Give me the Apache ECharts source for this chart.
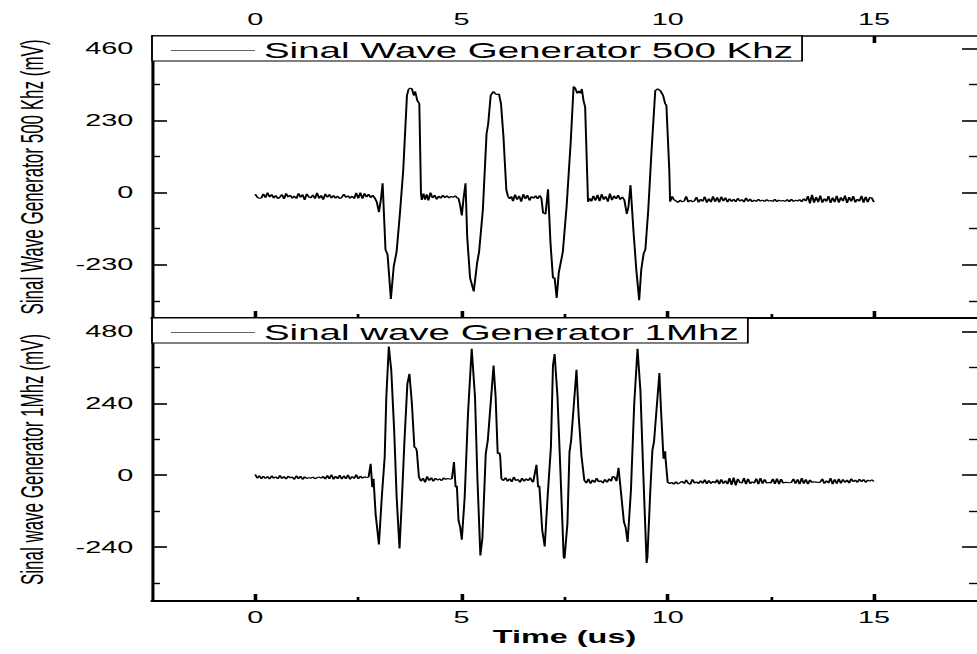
<!DOCTYPE html>
<html>
<head>
<meta charset="utf-8">
<script src="https://cdn.jsdelivr.net/npm/echarts@6/dist/echarts.min.js"></script>
<style>
html,body{margin:0;padding:0;background:#fff;overflow:hidden;}
#wrap{width:977px;height:654px;overflow:hidden;position:relative;background:#fff;}
#chart{width:543px;height:654px;transform:scaleX(1.79926);transform-origin:0 0;}
</style>
</head>
<body>
<div id="wrap"><div id="chart"></div></div>
<script>
// ---- data (time in us, signal in mV) ----
const seriesNames = ['Sinal Wave Generator 500 Khz', 'Sinal wave Generator 1Mhz'];
const yTitles = ['Sinal Wave Generator 500 Khz (mV)', 'Sinal wave Generator 1Mhz (mV)'];
const xTitle = 'Time (us)';
const xMajorTicks = [0, 5, 10, 15];
const xMinorTicks = [2.5, 7.5, 12.5];
const y500MajorTicks = [-230, 0, 230, 460];
const y500MinorTicks = [-345, -115, 115, 345];
const y1MMajorTicks = [-240, 0, 240, 480];
const y1MMinorTicks = [-360, -120, 120, 360];

const wave500kHz = [
[0,-5],[0.05,-14],[0.1,-18],[0.15,-17],[0.2,-4],[0.25,-16],[0.3,0],[0.35,-14],[0.4,-6],[0.45,-17],
[0.5,-9],[0.55,-19],[0.6,-14],[0.65,-6],[0.7,-20],[0.75,-2],[0.8,-14],[0.85,-8],[0.9,-18],[0.95,-11],
[1,-19],[1.05,-2],[1.1,-15],[1.15,-6],[1.2,-23],[1.25,-4],[1.3,-14],[1.35,-16],[1.4,-7],[1.45,-19],
[1.5,-1],[1.55,-18],[1.6,-9],[1.65,-22],[1.7,-4],[1.75,-15],[1.8,-6],[1.85,-17],[1.9,-9],[1.95,-18],
[2,-11],[2.05,-19],[2.1,-15],[2.15,-5],[2.2,-15],[2.25,-10],[2.3,-18],[2.35,-11],[2.4,-19],[2.45,-1],
[2.5,-18],[2.55,0],[2.6,-19],[2.65,-2],[2.7,-14],[2.75,-5],[2.8,-16],[2.85,-8],[2.9,-17],
[2.95,-30],[3.0,-62],[3.05,-20],[3.09,30],[3.16,-182],[3.21,-198],[3.29,-339],[3.36,-235],[3.43,-188],
[3.51,-66],[3.59,72],[3.68,310],[3.72,330],[3.76,334],[3.80,331],[3.85,310],[3.88,323],[3.93,294],
[3.98,284],[4.02,-2],[4.04,-23],
[4.08,-3],[4.12,-22],[4.16,-5],[4.2,-25],[4.25,0],[4.3,-17],[4.35,-8],[4.4,-21],[4.45,-11],[4.5,-18],
[4.55,-8],[4.6,-16],[4.65,-10],[4.7,-17],[4.75,-12],[4.8,-15],[4.85,-10],[4.9,-17],
[4.93,-18],[4.97,-40],[5.01,-73],[5.05,-20],[5.10,30],[5.14,-140],[5.21,-272],[5.30,-315],[5.38,-225],
[5.43,-188],[5.52,-55],[5.61,188],[5.65,220],[5.71,310],[5.75,318],[5.78,323],[5.82,316],[5.86,313],
[5.91,315],[5.96,284],[6.02,178],[6.09,8],[6.13,-12],[6.17,-20],
[6.21,-12],[6.25,-27],[6.3,-6],[6.35,-22],[6.4,-10],[6.45,-29],[6.5,-5],[6.55,-20],[6.6,-8],[6.65,-25],
[6.7,-12],[6.75,-18],[6.8,-10],[6.85,-20],[6.9,-9],[6.94,-18],
[6.98,-64],[7.04,-68],[7.10,11],[7.16,-161],[7.22,-272],[7.26,-272],[7.31,-336],[7.36,-256],[7.46,-188],
[7.55,-45],[7.65,162],[7.72,339],[7.76,333],[7.81,317],[7.85,325],[7.89,317],[7.92,331],[7.96,294],
[8.00,273],[8.07,-29],[8.11,-18],
[8.15,-28],[8.2,-10],[8.25,-25],[8.3,-7],[8.35,-27],[8.4,-5],[8.45,-22],[8.5,-12],[8.55,-29],[8.6,-3],
[8.65,-24],[8.7,-10],[8.75,-20],[8.8,-8],[8.85,-22],[8.9,-14],[8.95,-23],
[9.01,-68],[9.05,-45],[9.10,24],[9.17,-119],[9.24,-246],[9.31,-343],[9.36,-246],[9.42,-193],[9.46,-182],
[9.53,-55],[9.61,135],[9.66,241],[9.70,326],[9.76,331],[9.82,326],[9.89,310],[9.94,284],[9.97,279],
[10.04,72],[10.06,-29],[10.11,-12],[10.15,-22],
[10.2,-26],[10.25,-31],[10.3,-24],[10.35,-29],[10.4,-27],[10.45,-12],[10.5,-30],[10.55,-24],[10.6,-29],
[10.65,-26],[10.7,-14],[10.75,-31],[10.8,-21],[10.85,-28],[10.9,-13],[10.95,-32],[11,-19],[11.05,-30],
[11.1,-12],[11.15,-29],[11.2,-15],[11.25,-31],[11.3,-13],[11.35,-27],[11.4,-16],[11.45,-30],[11.5,-19],
[11.55,-28],[11.6,-21],[11.65,-29],[11.7,-18],[11.75,-27],[11.8,-22],[11.85,-30],[11.9,-17],[11.95,-28],
[12,-20],[12.05,-29],[12.1,-24],[12.15,-28],[12.2,-21],[12.25,-27],[12.3,-24],[12.35,-28],[12.4,-22],
[12.45,-27],[12.5,-25],[12.55,-28],[12.6,-21],[12.65,-29],[12.7,-24],[12.75,-27],[12.8,-25],[12.85,-28],
[12.9,-22],[12.95,-29],[13,-21],[13.05,-28],[13.1,-24],[13.15,-27],[13.2,-22],[13.25,-29],[13.3,-19],
[13.35,-27],[13.4,-11],[13.45,-34],[13.5,-7],[13.55,-32],[13.6,-14],[13.65,-30],[13.7,-9],[13.75,-32],
[13.8,-19],[13.85,-28],[13.9,-11],[13.95,-33],[14,-16],[14.05,-30],[14.1,-10],[14.15,-32],[14.2,-15],
[14.25,-27],[14.3,-9],[14.35,-33],[14.4,-14],[14.45,-28],[14.5,-11],[14.55,-31],[14.6,-21],[14.65,-27],
[14.7,-10],[14.75,-32],[14.8,-13],[14.85,-30],[14.9,-15],[14.95,-17],[15,-30]
];

const wave1MHz = [
[0,3],[0.05,-10],[0.1,-2],[0.15,-12],[0.2,-3],[0.25,-11],[0.3,-4],[0.35,-13],[0.4,-2],[0.45,-10],
[0.5,-5],[0.55,-12],[0.6,-1],[0.65,-11],[0.7,-4],[0.75,-13],[0.8,-3],[0.85,-9],[0.9,-6],[0.95,-14],
[1,-2],[1.05,-12],[1.1,-3],[1.15,-14],[1.2,-5],[1.25,-11],[1.3,-8],[1.35,-10],[1.4,-6],[1.45,-12],
[1.5,-8],[1.55,-6],[1.6,-10],[1.65,-4],[1.7,-13],[1.75,-1],[1.8,-12],[1.85,2],[1.9,-14],[1.95,-3],
[2,-12],[2.05,0],[2.1,-13],[2.15,-2],[2.2,-12],[2.25,1],[2.3,-14],[2.35,-4],[2.4,-11],[2.45,2],
[2.5,-12],[2.55,-3],[2.6,-10],[2.65,-5],[2.7,-8],
[2.75,-6],[2.80,38],[2.84,-40],[2.87,-12],[2.92,-129],[3.00,-231],[3.07,-73],[3.14,60],[3.18,261],
[3.24,430],[3.30,350],[3.37,150],[3.43,-73],[3.50,-245],[3.56,-73],[3.62,116],[3.69,305],[3.74,339],
[3.80,239],[3.86,94],[3.90,90],[3.92,80],[3.97,-6],[4.02,-20],
[4.07,-10],[4.12,-24],[4.17,-4],[4.22,-18],[4.27,-8],[4.32,-20],[4.37,-10],[4.42,-16],[4.47,-12],
[4.52,-18],[4.57,-9],[4.62,-14],[4.67,-11],[4.72,-13],
[4.77,-12],[4.82,44],[4.86,-40],[4.89,-35],[4.93,-151],[4.97,-173],[5.01,-215],[5.08,-73],[5.16,205],
[5.25,422],[5.33,261],[5.39,-17],[5.46,-268],[5.51,-208],[5.59,72],[5.64,116],[5.78,366],[5.83,261],
[5.88,72],[5.92,76],[5.94,64],[5.97,-12],
[6.02,-18],[6.07,-8],[6.12,-20],[6.17,-12],[6.22,-22],[6.27,-6],[6.32,-18],[6.37,-14],[6.42,-24],
[6.47,-10],[6.52,-20],[6.57,-12],[6.62,-18],[6.67,-8],[6.71,-20],
[6.74,-23],[6.82,35],[6.86,-40],[6.89,-35],[6.96,-184],[7.02,-238],[7.09,-73],[7.17,94],[7.22,366],
[7.26,405],[7.33,261],[7.40,16],[7.48,-273],[7.50,-278],[7.57,-162],[7.62,77],[7.66,116],[7.79,352],
[7.84,205],[7.91,66],[7.94,66],[7.98,-17],
[8.03,-26],[8.08,-12],[8.13,-28],[8.18,-16],[8.23,-24],[8.28,-10],[8.33,-22],[8.38,-18],[8.43,-26],
[8.48,-14],[8.53,-24],[8.58,-12],[8.63,-20],[8.67,-4],
[8.71,-6],[8.76,-20],[8.81,25],[8.86,-45],[8.88,-45],[8.94,-156],[8.98,-173],[9.03,-223],[9.11,-51],
[9.19,239],[9.27,422],[9.34,283],[9.41,5],[9.49,-293],[9.51,-273],[9.58,-51],[9.63,83],[9.67,112],
[9.80,341],[9.84,216],[9.90,55],[9.94,80],[9.95,55],[10.00,-23],
[10.05,-28],[10.1,-24],[10.15,-30],[10.2,-22],[10.25,-29],[10.3,-25],[10.35,-20],[10.4,-28],[10.45,-16],
[10.5,-27],[10.55,-30],[10.6,-14],[10.65,-26],[10.7,-22],[10.75,-28],[10.8,-18],[10.85,-27],[10.9,-15],
[10.95,-29],[11,-17],[11.05,-28],[11.1,-20],[11.15,-26],[11.2,-15],[11.25,-30],[11.3,-14],[11.35,-28],
[11.4,-18],[11.45,-30],[11.5,-10],[11.55,-32],[11.6,-8],[11.65,-34],[11.7,-12],[11.75,-24],[11.8,-26],
[11.85,-10],[11.9,-30],[11.95,-12],[12,-28],[12.05,-22],[12.1,-26],[12.15,-11],[12.2,-30],[12.25,-10],
[12.3,-28],[12.35,-14],[12.4,-26],[12.45,-24],[12.5,-26],[12.55,-12],[12.6,-29],[12.65,-11],[12.7,-30],
[12.75,-13],[12.8,-26],[12.85,-24],[12.9,-24],[12.95,-25],[13,-24],[13.05,-12],[13.1,-28],[13.15,-14],
[13.2,-30],[13.25,-10],[13.3,-28],[13.35,-14],[13.4,-30],[13.45,-16],[13.5,-24],[13.55,-22],[13.6,-23],
[13.65,-24],[13.7,-23],[13.75,-12],[13.8,-28],[13.85,-18],[13.9,-26],[13.95,-10],[14,-30],[14.05,-14],
[14.1,-28],[14.15,-12],[14.2,-27],[14.25,-14],[14.3,-24],[14.35,-16],[14.4,-26],[14.45,-12],[14.5,-22],
[14.55,-16],[14.6,-24],[14.65,-13],[14.7,-22],[14.75,-14],[14.8,-24],[14.85,-16],[14.9,-20],[14.95,-15],
[15,-21]
];

// ---- chart ----
const F = '"Liberation Sans", Arial, Helvetica, sans-serif';
const BLK = '#000';
const xRange = {min: -2.5, max: 17.5};
const yRange500 = {min: -400, max: 500};
const yRange1M = {min: -420, max: 525};

function xAx(grid, pos, opts) {
  return Object.assign({
    type: 'value', gridIndex: grid, position: pos, min: xRange.min, max: xRange.max,
    splitLine: {show: false},
    axisLine: {show: false, onZero: false},
    axisTick: {show: false},
    axisLabel: {show: false}
  }, opts);
}
function yAx(grid, pos, range, opts) {
  return Object.assign({
    type: 'value', gridIndex: grid, position: pos, min: range.min, max: range.max,
    splitLine: {show: false},
    axisLine: {show: false, onZero: false},
    axisTick: {show: false},
    axisLabel: {show: false}
  }, opts);
}
const xLabel = {show: true, customValues: xMajorTicks, color: BLK, fontSize: 16, fontFamily: F, margin: 8};
const xMajTick = {show: true, inside: true, length: 7, customValues: xMajorTicks, lineStyle: {color: BLK, width: 2}};
const xMinTick = {show: true, inside: true, length: 4, customValues: xMinorTicks, lineStyle: {color: BLK, width: 1.5}};

function yMajTick(v) { return {show: true, inside: true, length: 8.3, customValues: v, lineStyle: {color: BLK, width: 1.6}}; }
function yMinTick(v) { return {show: true, inside: true, length: 4.4, customValues: v, lineStyle: {color: BLK, width: 1.4}}; }
function yLabel(v) { return {show: true, customValues: v, color: BLK, fontSize: 16, fontFamily: F, margin: 10.5}; }
const yName = {color: BLK, fontSize: 17, fontFamily: F};

const legendBase = {
  orient: 'horizontal', icon: 'rect', itemWidth: 46.7, itemHeight: 1, itemGap: 0,
  padding: [4, 5, 0, 10.5], backgroundColor: '#fff', borderColor: BLK, borderWidth: 1, borderRadius: 0,
  textStyle: {fontSize: 21.4, color: BLK, fontFamily: F, lineHeight: 19},
  itemStyle: {color: '#666'}, selectedMode: false
};

const option = {
  animation: false,
  backgroundColor: '#fff',
  textStyle: {fontFamily: F},
  grid: [
    {left: 84.5, top: 36, width: 460.2, height: 282},
    {left: 84.5, top: 318, width: 460.2, height: 283}
  ],
  legend: [
    Object.assign({}, legendBase, {left: 84.5, top: 36, data: [seriesNames[0]]}),
    Object.assign({}, legendBase, {left: 84.5, top: 318, data: [seriesNames[1]]})
  ],
  xAxis: [
    xAx(0, 'bottom', {axisLine: {show: true, onZero: false, lineStyle: {color: BLK, width: 2}}, axisTick: xMajTick}),
    xAx(0, 'top', {axisLine: {show: true, onZero: false, lineStyle: {color: BLK, width: 1.5}}, axisTick: xMajTick, axisLabel: xLabel}),
    xAx(1, 'bottom', {axisLine: {show: true, onZero: false, lineStyle: {color: BLK, width: 2}}, axisTick: xMajTick, axisLabel: xLabel,
      name: xTitle, nameLocation: 'middle', nameGap: 27,
      nameTextStyle: {color: BLK, fontSize: 18, fontWeight: 'bold', fontFamily: F}}),
    xAx(1, 'top', {axisLine: {show: true, onZero: false, lineStyle: {color: BLK, width: 1.5}}}),
    xAx(0, 'bottom', {axisTick: xMinTick}),
    xAx(0, 'top', {axisTick: xMinTick}),
    xAx(1, 'bottom', {axisTick: xMinTick})
  ],
  yAxis: [
    yAx(0, 'left', yRange500, {axisLine: {show: true, onZero: false, lineStyle: {color: BLK, width: 1.7}},
      axisTick: yMajTick(y500MajorTicks), axisLabel: yLabel(y500MajorTicks),
      name: yTitles[0], nameLocation: 'middle', nameGap: 58, nameRotate: 90, nameTextStyle: yName}),
    yAx(0, 'right', yRange500, {axisTick: yMajTick(y500MajorTicks)}),
    yAx(0, 'left', yRange500, {axisTick: yMinTick(y500MinorTicks)}),
    yAx(0, 'right', yRange500, {axisTick: yMinTick(y500MinorTicks)}),
    yAx(1, 'left', yRange1M, {axisLine: {show: true, onZero: false, lineStyle: {color: BLK, width: 1.7}},
      axisTick: yMajTick(y1MMajorTicks), axisLabel: yLabel(y1MMajorTicks),
      name: yTitles[1], nameLocation: 'middle', nameGap: 58, nameRotate: 90, nameTextStyle: yName}),
    yAx(1, 'right', yRange1M, {axisTick: yMajTick(y1MMajorTicks)}),
    yAx(1, 'left', yRange1M, {axisTick: yMinTick(y1MMinorTicks)}),
    yAx(1, 'right', yRange1M, {axisTick: yMinTick(y1MMinorTicks)})
  ],
  series: [
    {name: seriesNames[0], type: 'line', xAxisIndex: 0, yAxisIndex: 0, data: wave500kHz,
      symbol: 'none', showSymbol: false, lineStyle: {color: BLK, width: 1.1}, itemStyle: {color: BLK}},
    {name: seriesNames[1], type: 'line', xAxisIndex: 2, yAxisIndex: 4, data: wave1MHz,
      symbol: 'none', showSymbol: false, lineStyle: {color: BLK, width: 1.1}, itemStyle: {color: BLK}}
  ]
};

const chart = echarts.init(document.getElementById('chart'), null, {renderer: 'svg'});
chart.setOption(option);
</script>
</body>
</html>
